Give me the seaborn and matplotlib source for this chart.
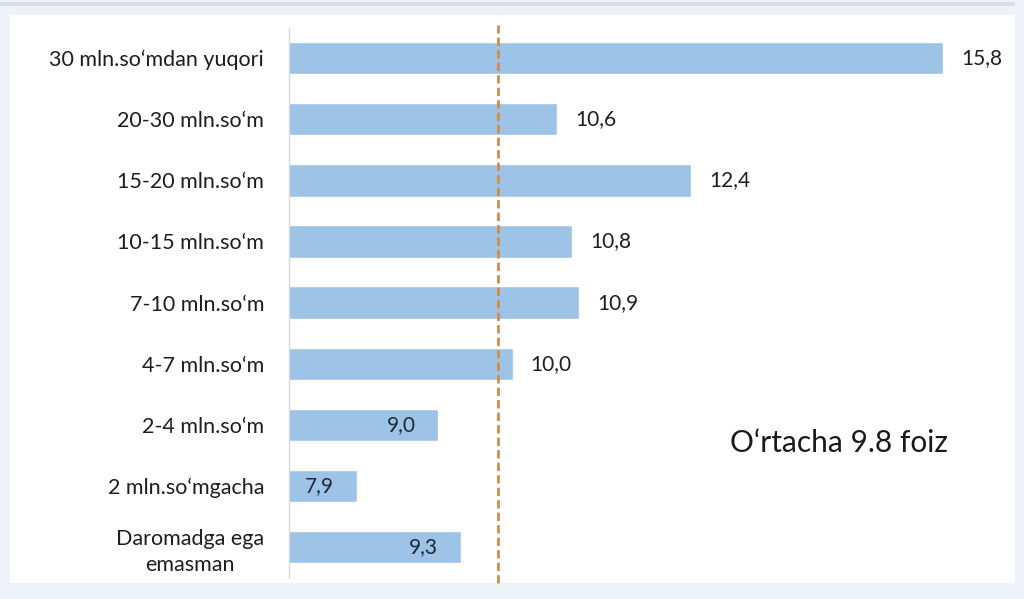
import matplotlib
matplotlib.use("Agg")
import matplotlib.pyplot as plt
import matplotlib.patches as mpatches
import seaborn as sns
import pandas as pd

# data
categories = [
    "30 mln.so\u2018mdan yuqori",
    "20-30 mln.so\u2018m",
    "15-20 mln.so\u2018m",
    "10-15 mln.so\u2018m",
    "7-10 mln.so\u2018m",
    "4-7 mln.so\u2018m",
    "2-4 mln.so\u2018m",
    "2 mln.so\u2018mgacha",
    "Daromadga ega\nemasman",
]
values = [15.8, 10.6, 12.4, 10.8, 10.9, 10.0, 9.0, 7.9, 9.3]
average = 9.8
avg_label = "O\u2018rtacha 9.8 foiz"

df = pd.DataFrame({"group": categories, "share": values})

sns.set_theme(style="white")
plt.rcParams["font.family"] = ["Lato", "DejaVu Sans"]

bg = "#EEF3FA"
bar_color = "#9DC3E6"

fig = plt.figure(figsize=(10.24, 5.99), dpi=100, facecolor=bg)
# white panel behind the chart
fig.patches.append(mpatches.Rectangle((10 / 1024, 1 - 583 / 599), 1005 / 1024, 568 / 599,
                                      transform=fig.transFigure, facecolor="white",
                                      edgecolor="none", zorder=-2))
# thin header strip at the top
fig.patches.append(mpatches.Rectangle((0, 1 - 6 / 599), 1015 / 1024, 4 / 599,
                                      transform=fig.transFigure, facecolor="#D9DEE5",
                                      edgecolor="none", zorder=-2))

ax = fig.add_axes([289 / 1024, 1 - 577.6 / 599, (1010 - 289) / 1024, 550 / 599])
ax.set_facecolor("none")

sns.barplot(data=df, x="share", y="group", color=bar_color, saturation=1,
            width=0.53, ax=ax, orient="h")

ax.set_xlim(6.99, 16.7)
ax.set_ylim(8.5, -0.5)
ax.set_xlabel("")
ax.set_ylabel("")
ax.set_xticks([])

for s in ["top", "right", "bottom"]:
    ax.spines[s].set_visible(False)
ax.spines["left"].set_color("#D9D9D9")
ax.spines["left"].set_linewidth(1.0)

ax.tick_params(axis="y", length=0, pad=18, labelsize=15.5, labelcolor="#1E1E1E")
for lab in ax.get_yticklabels():
    lab.set_multialignment("center")
    lab.set_linespacing(1.35)

# value labels: inside the bar when below the average, outside otherwise
for i, v in enumerate(values):
    txt = f"{v:.1f}".replace(".", ",")
    if v < average:
        ax.annotate(txt, (v, i), xytext=(-16, 0), textcoords="offset points",
                    ha="right", va="center", fontsize=15, color="#1F2A3A")
    else:
        ax.annotate(txt, (v, i), xytext=(13, 0), textcoords="offset points",
                    ha="left", va="center", fontsize=15, color="#1E1E1E")

ax.axvline(average, ymin=-0.01, ymax=1.005, color="#D38B4A", linestyle=(0, (3, 1.5)),
           linewidth=2, clip_on=False, zorder=3)

ax.text(14.4, 6.3, avg_label, ha="center", va="center", fontsize=21.5, color="#1A1A1A")

fig.savefig("out.png", dpi=100, facecolor=bg)
